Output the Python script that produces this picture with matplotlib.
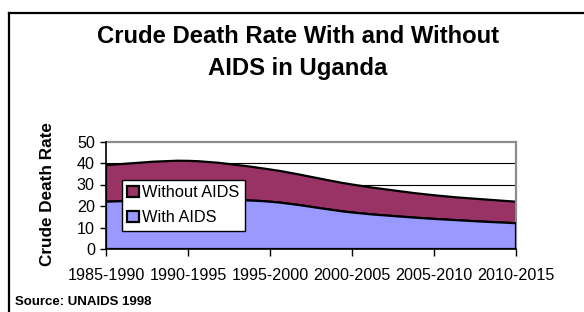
# Crude death rate in Uganda, with and without AIDS (UNAIDS 1998)
import matplotlib
matplotlib.use('Agg')
import matplotlib.pyplot as plt
from matplotlib.path import Path
from matplotlib.patches import PathPatch, Patch
from matplotlib.lines import Line2D

# data
periods = ['1985-1990', '1990-1995', '1995-2000', '2000-2005', '2005-2010', '2010-2015']
with_aids = [22, 23, 22, 17, 14, 12]
without_aids = [39, 41, 37, 30, 25, 22]

MAROON = '#993366'
BLUE = '#9999FF'

plt.rcParams['font.family'] = ['Liberation Sans', 'DejaVu Sans']


def smooth_segments(xs, ys):
    """
    Excel-like smoothed line: cubic bezier control points for each segment
    """
    n = len(xs)
    verts = []
    for i in range(n - 1):
        x0, y0 = xs[max(i - 1, 0)], ys[max(i - 1, 0)]
        x1, y1 = xs[i], ys[i]
        x2, y2 = xs[i + 1], ys[i + 1]
        x3, y3 = xs[min(i + 2, n - 1)], ys[min(i + 2, n - 1)]
        c1 = (x1 + (x2 - x0) / 6, y1 + (y2 - y0) / 6)
        c2 = (x2 - (x3 - x1) / 6, y2 - (y3 - y1) / 6)
        verts += [c1, c2, (x2, y2)]
    return verts


def area_path(xs, top, bottom):
    verts = [(xs[0], top[0])] + smooth_segments(xs, top)
    codes = [Path.MOVETO] + [Path.CURVE4] * (len(verts) - 1)
    rx = xs[::-1]
    rb = bottom[::-1]
    verts.append((rx[0], rb[0]))
    codes.append(Path.LINETO)
    back = smooth_segments(rx, rb)
    verts += back
    codes += [Path.CURVE4] * len(back)
    verts.append((xs[0], top[0]))
    codes.append(Path.CLOSEPOLY)
    return Path(verts, codes)


fig = plt.figure(figsize=(5.84, 3.12), dpi=100)
ax = fig.add_axes([106 / 584, 1 - 249 / 312, 410 / 584, 107.5 / 312])

x = list(range(len(periods)))
zeros = [0] * len(periods)

for yv in [10, 20, 30, 40]:
    ax.axhline(yv, color='black', lw=0.8, zorder=1)

ax.add_patch(PathPatch(area_path(x, without_aids, with_aids), facecolor=MAROON,
                       edgecolor='black', lw=1.6, zorder=2))
ax.add_patch(PathPatch(area_path(x, with_aids, zeros), facecolor=BLUE,
                       edgecolor='black', lw=1.6, zorder=3))

ax.set_xlim(0, len(periods) - 1)
ax.set_ylim(0, 50)
ax.set_xticks(x)
ax.set_xticklabels(periods)
ax.set_yticks([0, 10, 20, 30, 40, 50])
ax.tick_params(axis='x', length=5, width=1, pad=9, labelsize=11.6)
ax.tick_params(axis='y', length=4, width=1, pad=4, labelsize=11.6)

for side in ['top', 'right']:
    ax.spines[side].set_color('#8c8c8c')
    ax.spines[side].set_linewidth(1.6)
for side in ['left', 'bottom']:
    ax.spines[side].set_color('black')
    ax.spines[side].set_linewidth(1.2)
    ax.spines[side].set_zorder(5)

handles = [Patch(facecolor=MAROON, edgecolor='black', lw=1.6, label='Without AIDS'),
           Patch(facecolor=BLUE, edgecolor='black', lw=1.6, label='With AIDS')]
leg = ax.legend(handles=handles, loc='upper left', bbox_to_anchor=(122 / 584, 1 - 180 / 312),
                bbox_transform=fig.transFigure, borderaxespad=0, fontsize=11.8,
                fancybox=False, framealpha=1, edgecolor='black', borderpad=0.33,
                handlelength=0.72, handleheight=0.7, handletextpad=0.2, labelspacing=0.6)
leg.get_frame().set_linewidth(1.0)
leg.set_zorder(10)

# title, axis label and source
fig.text(298 / 584, 1 - 43 / 312, 'Crude Death Rate With and Without', ha='center',
         va='baseline', fontsize=17.2, fontweight='bold')
fig.text(298 / 584, 1 - 75 / 312, 'AIDS in Uganda', ha='center', va='baseline',
         fontsize=17.2, fontweight='bold')
fig.text(47.5 / 584, 1 - 194 / 312, 'Crude Death Rate', rotation=90, ha='center',
         va='center', fontsize=12.3, fontweight='bold')
fig.text(15 / 584, 1 - 305 / 312, 'Source: UNAIDS 1998', ha='left', va='baseline',
         fontsize=9.5, fontweight='bold')

# outer frame (left and top edges)
fig.add_artist(Line2D([9 / 584, 9 / 584], [0, 1 - 12.5 / 312], color='black', lw=1.6,
                      transform=fig.transFigure))
fig.add_artist(Line2D([9 / 584, 583 / 584], [1 - 12.5 / 312, 1 - 12.5 / 312], color='black',
                      lw=1.6, transform=fig.transFigure))

fig.savefig('out.png', dpi=100)
